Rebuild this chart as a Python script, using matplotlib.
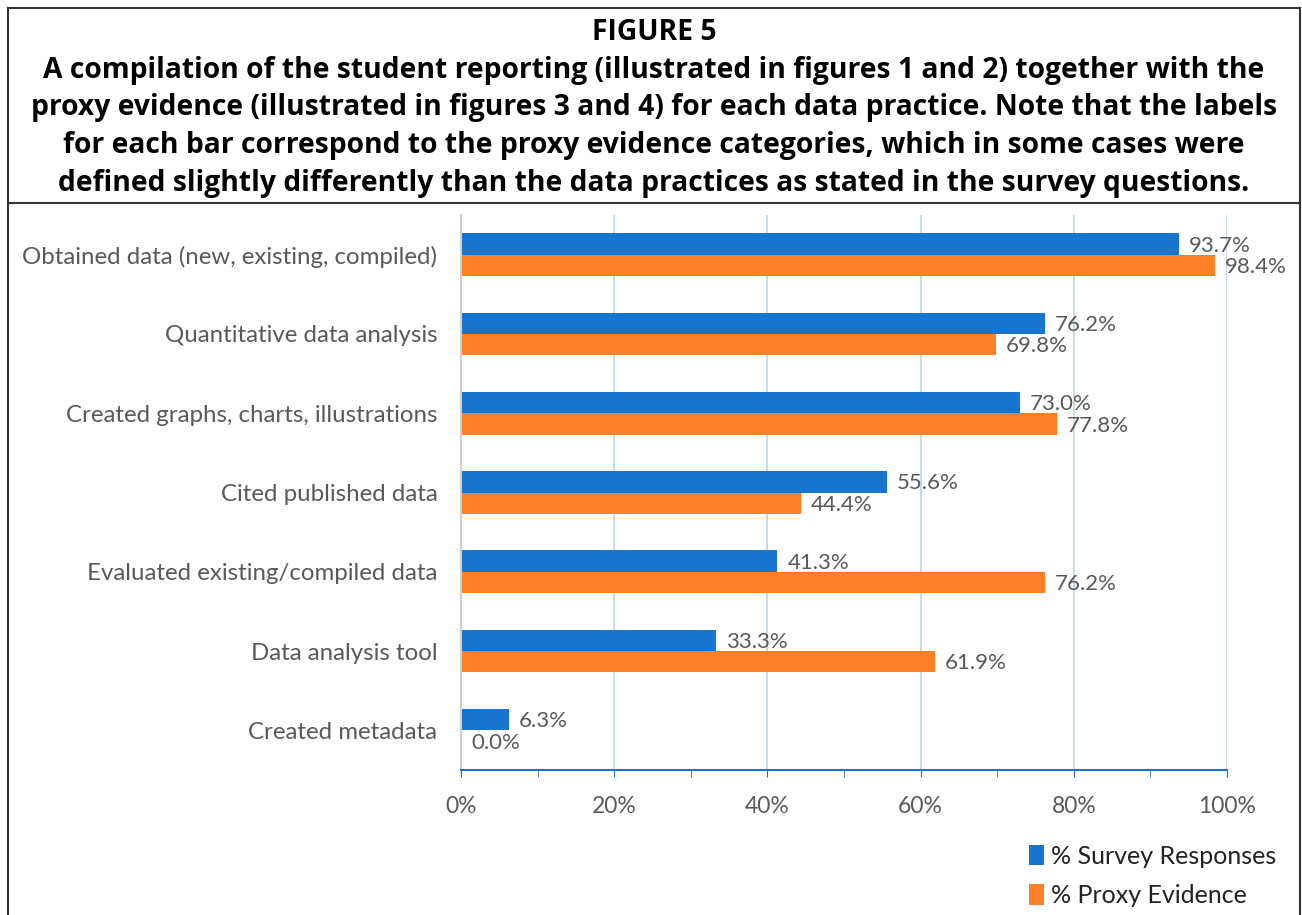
import numpy as np
import matplotlib
matplotlib.use('Agg')
import matplotlib.pyplot as plt
from matplotlib.lines import Line2D

categories = ['Obtained data (new, existing, compiled)', 'Quantitative data analysis',
              'Created graphs, charts, illustrations', 'Cited published data',
              'Evaluated existing/compiled data', 'Data analysis tool', 'Created metadata']
survey = [93.7, 76.2, 73.0, 55.6, 41.3, 33.3, 6.3]
proxy = [98.4, 69.8, 77.8, 44.4, 76.2, 61.9, 0.0]
series_names = ['% Survey Responses', '% Proxy Evidence']
xticks = [0, 20, 40, 60, 80, 100]

BLUE = '#1874CD'
ORANGE = '#FF7F27'
GRAY = '#595959'
TITLE_FONT = ['Open Sans', 'DejaVu Sans']
BODY_FONT = ['Lato', 'DejaVu Sans']

W, H = 1302, 915
fig = plt.figure(figsize=(W / 100, H / 100), dpi=100)

# frame lines of the figure box
fig.add_artist(Line2D([8 / W, 1300 / W], [1 - 8 / H, 1 - 8 / H], color='#333333', lw=1.5))
fig.add_artist(Line2D([8 / W, 8 / W], [0, 1 - 8 / H], color='#333333', lw=1.5))
fig.add_artist(Line2D([1300 / W, 1300 / W], [0, 1 - 8 / H], color='#333333', lw=1.5))
fig.add_artist(Line2D([8 / W, 1300 / W], [1 - 203 / H, 1 - 203 / H], color='#333333', lw=1.5))

title_lines = ['FIGURE 5',
               'A compilation of the student reporting (illustrated in figures 1 and 2) together with the',
               'proxy evidence (illustrated in figures 3 and 4) for each data practice. Note that the labels',
               'for each bar correspond to the proxy evidence categories, which in some cases were',
               'defined slightly differently than the data practices as stated in the survey questions.']
for i, t in enumerate(title_lines):
    fig.text(654 / W, 1 - (33 + 37.5 * i) / H, t, ha='center', va='center',
             fontsize=20.3, fontweight='bold', family=TITLE_FONT, color='black')

ax = fig.add_axes([461 / W, 1 - 770 / H, (1227 - 461) / W, (770 - 215) / H])
y = np.arange(len(categories))
bh = 0.27
ax.barh(y - bh / 2, survey, height=bh, color=BLUE, label=series_names[0])
ax.barh(y + bh / 2, proxy, height=bh, color=ORANGE, label=series_names[1])

for yi, v in zip(y, survey):
    ax.text(v + 1.3, yi - bh / 2 + 0.02, f'{v:.1f}%', va='center', ha='left',
            fontsize=16, color=GRAY, family=BODY_FONT)
for yi, v in zip(y, proxy):
    ax.text(v + 1.3, yi + bh / 2 + 0.02, f'{v:.1f}%', va='center', ha='left',
            fontsize=16, color=GRAY, family=BODY_FONT)

ax.set_xlim(0, 100)
ax.set_ylim(len(categories) - 0.5, -0.5)
ax.set_yticks(y)
ax.set_yticklabels(categories, fontsize=17.3, color=GRAY, family=BODY_FONT)
ax.set_xticks(xticks)
ax.set_xticklabels([f'{t}%' for t in xticks], fontsize=16.5, color=GRAY, family=BODY_FONT)
ax.set_xticks(np.arange(10, 100, 20), minor=True)
ax.tick_params(axis='y', length=0, pad=17)
ax.tick_params(axis='x', which='both', direction='out', length=5, color=BLUE, pad=14)
ax.grid(axis='x', color='#BDD3EE', lw=1.2)
ax.set_axisbelow(True)
for s in ['top', 'right']:
    ax.spines[s].set_visible(False)
ax.spines['left'].set_color('#D0D0D0')
ax.spines['left'].set_linewidth(1.5)
ax.spines['bottom'].set_color(BLUE)
ax.spines['bottom'].set_linewidth(1.5)

handles, labels = ax.get_legend_handles_labels()
fig.legend(handles, labels, loc='upper left', bbox_to_anchor=(1006 / W, 1 - 822 / H),
           frameon=False, prop={'family': BODY_FONT, 'size': 18}, labelcolor='#222222',
           handlelength=0.6, handleheight=0.9, handletextpad=0.3, labelspacing=0.65)

fig.savefig('out.png', dpi=100)
